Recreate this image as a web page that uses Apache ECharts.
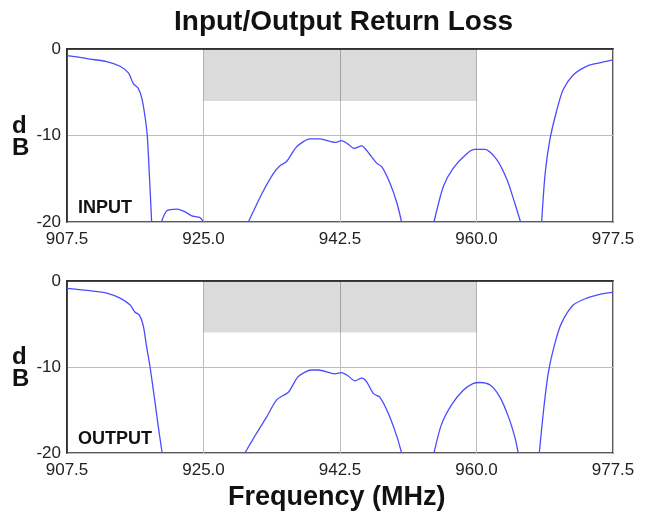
<!DOCTYPE html>
<html>
<head>
<meta charset="utf-8">
<style>
html,body{margin:0;padding:0;background:#fff;}
#chart{width:647px;height:519px;}
</style>
<script src="https://cdn.jsdelivr.net/npm/echarts@6/dist/echarts.min.js"></script>
</head>
<body>
<div id="chart"></div>
<script>
// ---- data ----
var xTicks = [907.5, 925.0, 942.5, 960.0, 977.5];
var yTicks = [0, -10, -20];
var specBand = { fromMHz: 925, toMHz: 960, topDb: 0, bottomDb: -6 };

var inputFreq = [907.5, 909.0, 910.45, 912.6, 914.3, 915.4, 916.0, 916.6, 917.1, 917.5, 917.8, 918.05, 918.35, null,
  919.6, 920.3, 921.6, 922.6, 923.5, 924.55, 925.0, null,
  930.75, 932.5, 933.95, 934.8, 935.65, 936.95, 938.65, 939.9, 941.85, 942.7, 943.55, 944.3, 945.3, 945.9, 947.2, 947.85, 948.9, 949.8, 950.4, null,
  954.55, 955.75, 957.0, 958.75, 959.8, 961.1, 962.6, 963.9, 964.9, 965.65, null,
  968.35, 968.8, 969.4, 970.3, 971.1, 972.4, 974.1, 975.8, 977.5];
var inputDb = [-0.77, -0.95, -1.16, -1.46, -2.0, -2.8, -4.0, -4.5, -5.7, -7.8, -10.1, -14.4, -20, null,
  -20, -18.7, -18.5, -18.8, -19.3, -19.5, -20, null,
  -20, -16.7, -14.4, -13.5, -13.0, -11.3, -10.4, -10.4, -10.8, -10.6, -11.0, -11.5, -11.2, -11.7, -13.2, -13.6, -15.5, -17.8, -20, null,
  -20, -15.9, -13.8, -12.1, -11.6, -11.6, -12.8, -15.1, -17.8, -20, null,
  -20, -14.4, -10.5, -7.05, -4.7, -3.0, -2.0, -1.6, -1.27];

var outputFreq = [907.5, 910.45, 912.6, 914.3, 915.6, 916.2, 916.8, 917.3, 917.7, 918.15, 918.8, 919.2, 919.7, null,
  930.3, 931.8, 933.1, 934.4, 935.9, 937.15, 938.85, 939.7, 941.85, 942.7, 943.55, 944.4, 945.3, 945.9, 946.8, 947.6, 948.7, 949.8, 950.4, null,
  954.55, 955.5, 956.8, 958.3, 959.6, 960.45, 961.75, 963.0, 964.1, 964.9, 965.35, null,
  968.05, 968.6, 969.2, 970.05, 970.9, 972.4, 974.1, 975.8, 977.5];
var outputDb = [-0.85, -1.13, -1.4, -2.0, -2.8, -3.6, -4.0, -5.3, -7.6, -10.0, -14.2, -16.9, -20, null,
  -20, -17.7, -15.8, -13.8, -12.9, -11.1, -10.35, -10.35, -10.8, -10.65, -11.05, -11.6, -11.3, -11.7, -13.1, -13.5, -15.4, -18.1, -20, null,
  -20, -16.7, -14.4, -12.7, -11.9, -11.8, -12.1, -13.5, -15.8, -18.1, -20, null,
  -20, -15.0, -10.7, -7.25, -4.9, -2.8, -2.0, -1.55, -1.3];

var titleText = 'Input/Output Return Loss';
var xName = 'Frequency (MHz)';
var yName = 'd\nB';
var panelNames = ['INPUT', 'OUTPUT'];

// ---- build ----
function pairs(xs, ys) {
  return xs.map(function (x, i) { return x === null ? null : [x, ys[i]]; });
}
var FONT = 'Liberation Sans, Arial, sans-serif';
var grids = [
  { left: 67, top: 49, width: 546, height: 173 },
  { left: 67, top: 281, width: 546, height: 172 }
];
function xAxis(i) {
  return {
    type: 'value', gridIndex: i, min: xTicks[0], max: xTicks[xTicks.length - 1],
    interval: xTicks[1] - xTicks[0],
    axisLine: { show: true, lineStyle: { color: '#222', width: 1.5 } },
    axisTick: { show: false },
    axisLabel: { color: '#222', fontSize: 17, fontFamily: FONT, margin: 9,
      formatter: function (v) { return v.toFixed(1); } },
    splitLine: { show: true, lineStyle: { color: '#bdbdbd', width: 1 } }
  };
}
function yAxis(i) {
  return {
    type: 'value', gridIndex: i, min: yTicks[2], max: yTicks[0], interval: 10,
    axisLine: { show: true, lineStyle: { color: '#222', width: 1.5 } },
    axisTick: { show: false },
    axisLabel: { color: '#222', fontSize: 17, fontFamily: FONT, margin: 6 },
    splitLine: { show: true, lineStyle: { color: '#bdbdbd', width: 1 } }
  };
}
function lineSeries(i, data) {
  return {
    type: 'line', xAxisIndex: i, yAxisIndex: i, data: data,
    showSymbol: false, smooth: 0.25, connectNulls: false, clip: true,
    lineStyle: { color: '#4b4bff', width: 1.3 },
    markArea: {
      silent: true,
      itemStyle: { color: 'rgba(0,0,0,0.14)' },
      data: [[{ coord: [specBand.fromMHz, specBand.topDb] }, { coord: [specBand.toMHz, specBand.bottomDb] }]]
    },
    z: 3
  };
}
var chart = echarts.init(document.getElementById('chart'), null, { renderer: 'canvas' });
chart.setOption({
  animation: false,
  backgroundColor: '#fff',
  title: {
    text: titleText, left: 169, top: 3,
    textStyle: { fontSize: 28, fontWeight: 'bold', color: '#111', fontFamily: FONT }
  },
  grid: grids.map(function (g) {
    return Object.assign({ show: true, borderColor: '#222', borderWidth: 1.5, backgroundColor: 'transparent' }, g);
  }),
  xAxis: [xAxis(0), xAxis(1)],
  yAxis: [yAxis(0), yAxis(1)],
  series: [lineSeries(0, pairs(inputFreq, inputDb)), lineSeries(1, pairs(outputFreq, outputDb))],
  graphic: [
    { type: 'text', left: 12, top: 114, style: { text: yName, font: 'bold 24px ' + FONT, fill: '#111', lineHeight: 22 } },
    { type: 'text', left: 12, top: 345, style: { text: yName, font: 'bold 24px ' + FONT, fill: '#111', lineHeight: 22 } },
    { type: 'text', left: 78, top: 199, style: { text: panelNames[0], font: 'bold 18px ' + FONT, fill: '#111' } },
    { type: 'text', left: 78, top: 430, style: { text: panelNames[1], font: 'bold 18px ' + FONT, fill: '#111' } },
    { type: 'text', left: 228, top: 484, style: { text: xName, font: 'bold 27px ' + FONT, fill: '#111' } }
  ]
});
</script>
</body>
</html>
